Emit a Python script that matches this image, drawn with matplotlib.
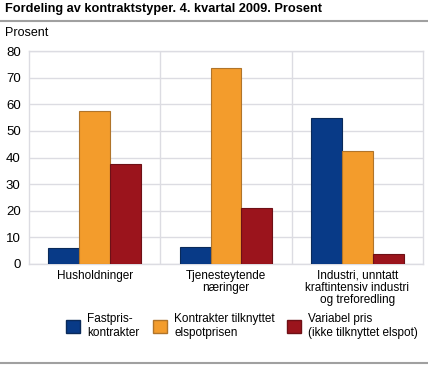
import matplotlib.pyplot as plt
import matplotlib as mpl
from matplotlib.lines import Line2D
from matplotlib.patches import Patch
import numpy as np

mpl.rcParams["font.family"] = ["Liberation Sans", "DejaVu Sans"]

categories = ["Husholdninger", "Tjenesteytende\nnæringer",
              "Industri, unntatt\nkraftintensiv industri\nog treforedling"]
series_names = ["Fastpris-\nkontrakter", "Kontrakter tilknyttet\nelspotprisen",
                "Variabel pris\n(ikke tilknyttet elspot)"]
fastpris = [5.9, 6.3, 54.7]
spot = [57.4, 73.5, 42.3]
variabel = [37.4, 20.9, 3.6]

colors = ["#083a87", "#f39c2c", "#9b141c"]
edges = ["#0a2a5a", "#b0742a", "#6e1016"]

W, H = 428, 365
fig = plt.figure(figsize=(W / 100, H / 100), dpi=100)
ax = fig.add_axes([29 / W, (H - 264) / H, (423 - 29) / W, 213 / H])

x = np.arange(len(categories))
width = 0.235
for i, vals in enumerate([fastpris, spot, variabel]):
    ax.bar(x + (i - 1) * width, vals, width=width, color=colors[i],
           edgecolor=edges[i], linewidth=0.8, zorder=3)

ax.set_xlim(-0.5, 2.5)
ax.set_ylim(0, 80)
ax.set_yticks(range(0, 81, 10))
ax.set_xticks(x)
ax.set_xticklabels(categories, fontsize=8.5, linespacing=1.05)
ax.tick_params(axis="both", length=0, colors="#000000")
ax.tick_params(axis="y", labelsize=9.5, pad=6)
ax.tick_params(axis="x", pad=4)
ax.grid(axis="y", color="#dcdce2", lw=1, zorder=1)
for xv in [0.5, 1.5]:
    ax.axvline(xv, color="#dcdce2", lw=1, zorder=1)
for s in ax.spines.values():
    s.set_color("#dcdce2")
    s.set_linewidth(1)

fig.text(5 / W, 1 - 9 / H, "Fordeling av kontraktstyper. 4. kvartal 2009. Prosent",
         fontsize=9.2, fontweight="bold", va="center", ha="left")
fig.text(5 / W, 1 - 33 / H, "Prosent", fontsize=9, va="center", ha="left")
fig.add_artist(Line2D([0, 1], [1 - 21 / H, 1 - 21 / H], color="#a0a0a0", lw=1.5))
fig.add_artist(Line2D([0, 1], [1 - 363 / H, 1 - 363 / H], color="#a0a0a0", lw=1.5))

handles = [Patch(facecolor=colors[i], edgecolor=edges[i]) for i in range(3)]
xs = [66, 153, 287]
for i in range(3):
    fig.legend([handles[i]], [series_names[i]], loc="center left",
               bbox_to_anchor=(xs[i] / W, 1 - 326 / H), frameon=False,
               fontsize=8.5, handlelength=1.2, handleheight=1.4,
               handletextpad=0.6, borderpad=0, borderaxespad=0,
               labelspacing=0)

fig.savefig("out.png", dpi=100)
